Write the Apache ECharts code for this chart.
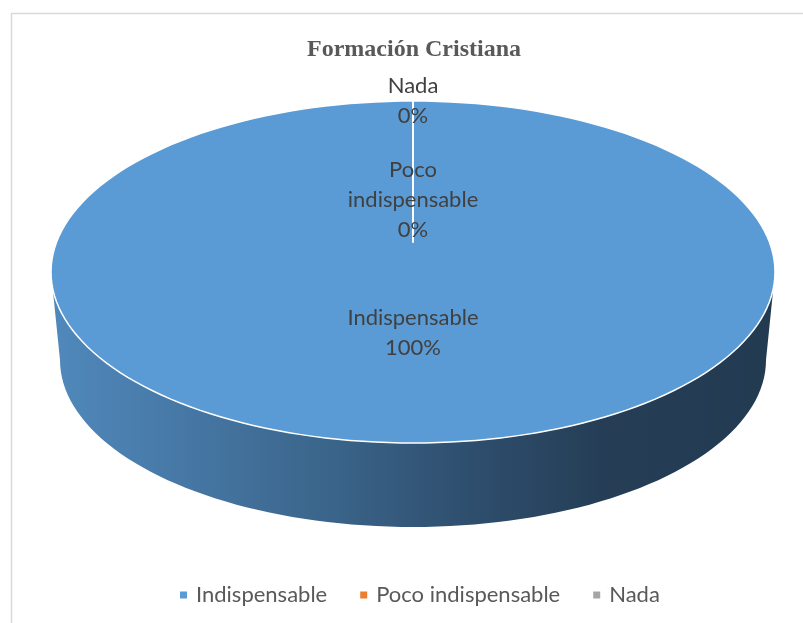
<!DOCTYPE html>
<html>
<head>
<meta charset="utf-8">
<script src="https://cdn.jsdelivr.net/npm/echarts@6/dist/echarts.min.js"></script>
<style>
  html, body { margin: 0; padding: 0; background: #ffffff; }
  #chart { width: 803px; height: 623px; }
</style>
</head>
<body>
<div id="chart"></div>
<script>
// ---- data ----
var titleText = 'Formación Cristiana';
var categories = ['Indispensable', 'Poco indispensable', 'Nada'];
var labelNames = ['Indispensable', 'Poco\nindispensable', 'Nada'];
var values = [100, 0, 0];
var colors = ['#5b9bd5', '#ed7d31', '#a5a5a5'];

// ---- layout (geometry of the 3D pie drawing) ----
var G = {
  cx: 413, cy: 272, rx: 362, ry: 171,        // top ellipse
  hubY: 242,                                  // projected pie centre
  bcy: 360, brx: 353, bry: 167,               // bottom ellipse of the side
  labelFrac: [0.45, 0.30, 1.0]
};

var total = values.reduce(function (a, b) { return a + b; }, 0);

function topPt(deg) {
  var r = deg * Math.PI / 180;
  return [G.cx + G.rx * Math.cos(r), G.cy - G.ry * Math.sin(r)];
}
function botPt(deg) {
  var r = deg * Math.PI / 180;
  return [G.cx + G.brx * Math.cos(r), G.bcy - G.bry * Math.sin(r)];
}

function sliceAngles(idx) {
  var cum = 0;
  for (var i = 0; i < idx; i++) cum += values[i];
  var start = 90 - 360 * cum / total;
  var end = 90 - 360 * (cum + values[idx]) / total;
  return [start, end];
}

function makeRender(idx) {
  return function (params, api) {
    var children = [];
    var ang = sliceAngles(idx);
    var v = api.value(0);
    if (idx === 0) {
      var side = [];
      var k;
      for (k = 180; k <= 360; k += 2) side.push(topPt(k));
      for (k = 360; k >= 180; k -= 2) side.push(botPt(k));
      children.push({
        type: 'polygon',
        shape: { points: side },
        style: {
          fill: new echarts.graphic.LinearGradient(0, 0, 1, 0, [
            { offset: 0, color: '#5089bc' },
            { offset: 0.2, color: '#4576a3' },
            { offset: 0.39, color: '#3a6489' },
            { offset: 0.57, color: '#2f4f6f' },
            { offset: 0.76, color: '#253e56' },
            { offset: 1, color: '#233b51' }
          ]),
          stroke: null
        }
      });
    }
    var hub = [G.cx, G.hubY];
    var pts = [hub];
    var steps = Math.max(1, Math.ceil(Math.abs(ang[0] - ang[1]) / 2));
    for (var s = 0; s <= steps; s++) {
      pts.push(topPt(ang[0] + (ang[1] - ang[0]) * s / steps));
    }
    pts.push(hub);
    children.push({
      type: 'polygon',
      shape: { points: pts },
      style: { fill: v > 0 ? colors[idx] : 'rgba(0,0,0,0)', stroke: '#ffffff', lineWidth: 1.5, lineJoin: 'round' }
    });
    return { type: 'group', children: children };
  };
}

function makeLabelRender(idx) {
  return function (params, api) {
    var ang = sliceAngles(idx);
    var mid = (ang[0] + ang[1]) / 2;
    var edge = topPt(mid);
    var f = G.labelFrac[idx];
    var x = G.cx + (edge[0] - G.cx) * f;
    var y = G.hubY + (edge[1] - G.hubY) * f;
    var pct = Math.round(api.value(0) / total * 100) + '%';
    return {
      type: 'text',
      z2: 100,
      style: {
        text: labelNames[idx] + '\n' + pct,
        x: x, y: y,
        align: 'center', verticalAlign: 'middle',
        fontFamily: 'Lato', fontSize: 22, lineHeight: 30,
        fill: '#404040'
      }
    };
  };
}

var series = [];
categories.forEach(function (name, i) {
  series.push({
    type: 'custom', name: name, coordinateSystem: 'none',
    renderItem: makeRender(i),
    data: [[values[i]]],
    z: 2, silent: true
  });
});
categories.forEach(function (name, i) {
  series.push({
    type: 'custom', name: name + ' label', coordinateSystem: 'none',
    renderItem: makeLabelRender(i),
    data: [[values[i]]],
    z: 5, silent: true
  });
});

var chart = echarts.init(document.getElementById('chart'), null, { renderer: 'canvas' });
chart.setOption({
  animation: false,
  backgroundColor: '#ffffff',
  color: colors,
  graphic: [{
    type: 'rect', silent: true, z: 0,
    shape: { x: 11.5, y: 13.5, width: 900, height: 800 },
    style: { fill: null, stroke: '#d9d9d9', lineWidth: 1.5 }
  }],
  title: {
    text: titleText, left: 302, top: 33,
    textStyle: { fontFamily: 'Liberation Serif', fontWeight: 'bold', fontSize: 24, color: '#595959' }
  },
  legend: {
    data: categories, left: 175, top: 579,
    icon: 'rect', itemWidth: 7, itemHeight: 7, itemGap: 33,
    textStyle: { fontFamily: 'Lato', fontSize: 22, color: '#595959', padding: [0, 0, 0, 4] }
  },
  series: series
});
</script>
</body>
</html>
